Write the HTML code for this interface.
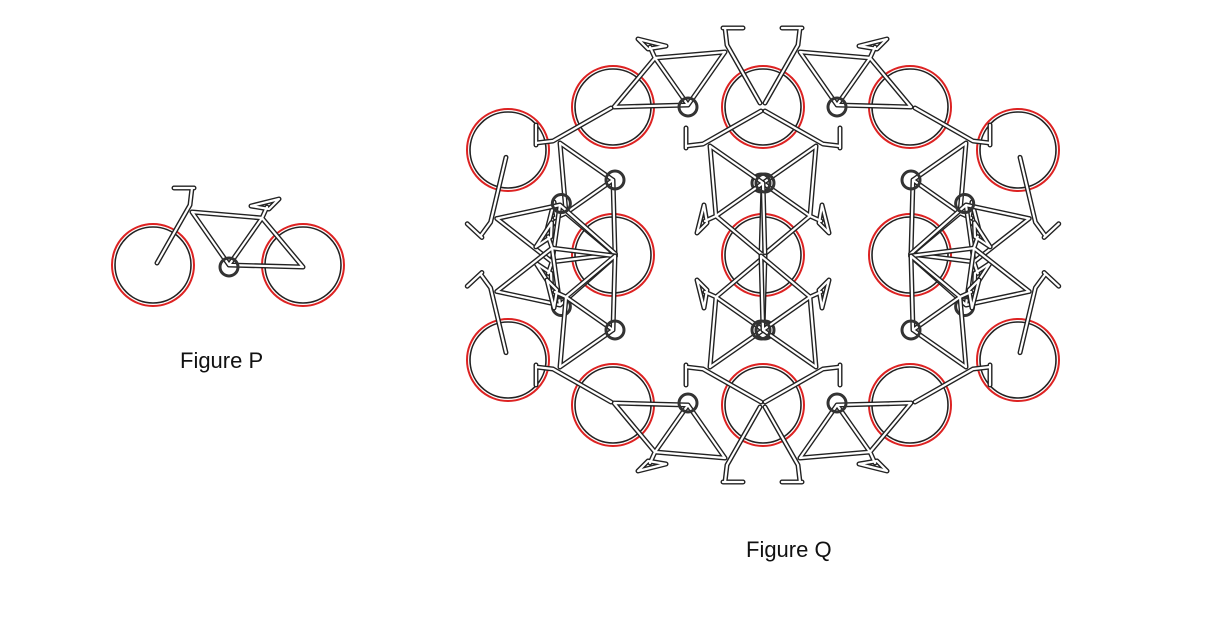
<!DOCTYPE html>
<html><head><meta charset="utf-8"><style>
body{margin:0;background:#fff;width:1222px;height:618px;overflow:hidden}
svg{position:absolute;left:0;top:0}
text{font-family:"Liberation Sans",sans-serif;font-size:22px;fill:#111}
</style></head><body>
<svg width="1222" height="618" viewBox="0 0 1222 618">
<defs>
<g id="f" fill="none" stroke-linejoin="round" stroke-linecap="round">
<path d="M-39,-60 L-72,-2 M-37,-77 L-39,-60 M-55,-77 L-35,-77 M-37,-53 L33,-47 M-37,-53 L0,0 L33,-47 L74,2 M0,0 L74,2 M33,-47 L38,-58 M22,-59 L50,-66 L40,-56 Z"/>
</g>
<g id="b">
<use href="#f" stroke="#222" stroke-width="5"/>
<use href="#f" stroke="#fff" stroke-width="2.2"/>
<circle cx="0" cy="2" r="9" fill="none" stroke="#333" stroke-width="3"/>
</g>
<g id="w">
<circle r="41" fill="none" stroke="#d22" stroke-width="2"/>
<circle r="38" fill="none" stroke="#222" stroke-width="1.6"/>
</g>
</defs>
<!-- Figure P -->
<use href="#w" x="153" y="265"/>
<use href="#w" x="303" y="265"/>
<use href="#b" transform="translate(229,265)"/>
<text x="180" y="368">Figure P</text>
<!-- Figure Q wheels -->
<use href="#w" x="613" y="107"/><use href="#w" x="763" y="107"/><use href="#w" x="910" y="107"/>
<use href="#w" x="508" y="150"/><use href="#w" x="1018" y="150"/>
<use href="#w" x="613" y="255"/><use href="#w" x="763" y="255"/><use href="#w" x="910" y="255"/>
<use href="#w" x="508" y="360"/><use href="#w" x="1018" y="360"/>
<use href="#w" x="613" y="405"/><use href="#w" x="763" y="405"/><use href="#w" x="910" y="405"/>
<!-- bikes -->
<use href="#b" transform="translate(688,105) scale(-1,1)"/>
<use href="#b" transform="translate(837,105)"/>
<use href="#b" transform="translate(688,405) scale(-1,-1)"/>
<use href="#b" transform="translate(837,405) scale(1,-1)"/>
<use href="#b" transform="translate(763,183) rotate(90)"/>
<use href="#b" transform="translate(763,183) rotate(90) scale(1,-1)"/>
<use href="#b" transform="translate(763,330) rotate(-90)"/>
<use href="#b" transform="translate(763,330) rotate(-90) scale(1,-1)"/>
<g id="L">
<use href="#b" transform="translate(613,180) rotate(90) scale(1,-1)"/>
<use href="#b" transform="translate(560,205) rotate(43) scale(1,-1)"/>
<use href="#b" transform="translate(560,305) rotate(-43)"/>
<use href="#b" transform="translate(613,330) rotate(-90)"/>
</g>
<use href="#L" transform="translate(1526,0) scale(-1,1)"/>
<text x="746" y="557">Figure Q</text>
</svg>
</body></html>
